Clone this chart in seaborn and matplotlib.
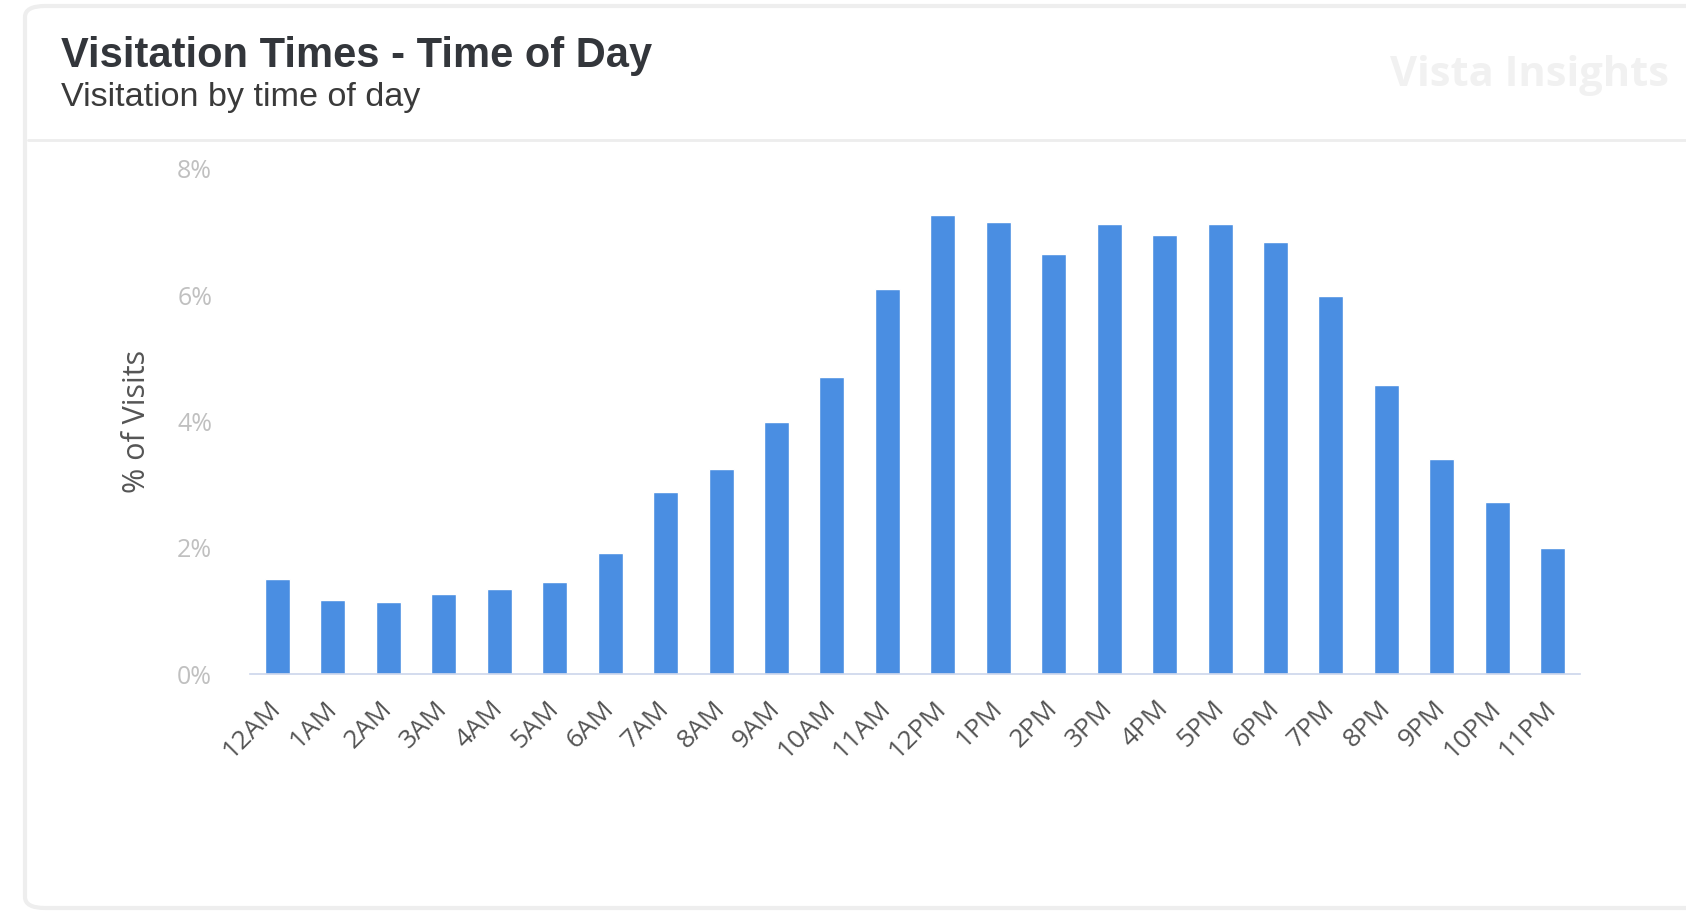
import matplotlib
matplotlib.use("Agg")
import matplotlib.pyplot as plt
import seaborn as sns
from matplotlib.patches import FancyBboxPatch
from matplotlib.lines import Line2D
from matplotlib.ticker import FuncFormatter

# hour of day and share of visits (%)
hours = ["12AM", "1AM", "2AM", "3AM", "4AM", "5AM", "6AM", "7AM", "8AM", "9AM",
         "10AM", "11AM", "12PM", "1PM", "2PM", "3PM", "4PM", "5PM", "6PM", "7PM",
         "8PM", "9PM", "10PM", "11PM"]
visits_pct = [1.50, 1.18, 1.14, 1.27, 1.35, 1.46, 1.92, 2.88, 3.25, 4.00,
              4.70, 6.09, 7.27, 7.15, 6.65, 7.12, 6.96, 7.12, 6.84, 5.99,
              4.57, 3.41, 2.72, 2.00]
y_ticks = [0, 2, 4, 6, 8]

sns.set_theme(style="white")
plt.rcParams["font.family"] = ["Open Sans", "DejaVu Sans"]

fig = plt.figure(figsize=(16.86, 9.16), dpi=100)
fig.patch.set_facecolor("white")

# card background
card = FancyBboxPatch((25 / 1686, 8 / 916), 1.05, 902 / 916,
                      boxstyle="round,pad=0,rounding_size=0.012",
                      transform=fig.transFigure, facecolor="white",
                      edgecolor="#eeeeee", linewidth=3, zorder=-10)
fig.patches.append(card)
fig.lines.append(Line2D([28 / 1686, 1.0], [1 - 140 / 916, 1 - 140 / 916],
                        transform=fig.transFigure, color="#ededed",
                        linewidth=2, zorder=-5))

# header
fig.text(61 / 1686, 1 - 67 / 916, "Visitation Times - Time of Day",
         family="Liberation Sans", fontsize=30, fontweight="bold",
         color="#33363b", ha="left", va="baseline")
fig.text(61 / 1686, 1 - 106 / 916, "Visitation by time of day",
         family="Liberation Sans", fontsize=24.6, color="#3a3a3a",
         ha="left", va="baseline")
fig.text(1669 / 1686, 1 - 75 / 916, "Vista Insights", family="Open Sans",
         fontsize=30, fontweight="bold", color="#f1f1f1", ha="right", va="center")

ax = fig.add_axes([249.7 / 1686, 1 - 674.2 / 916, 1330.8 / 1686, 505.4 / 916])
ax.set_zorder(5)
ax.patch.set_alpha(0)
sns.barplot(x=hours, y=visits_pct, color="#4a8ee2", saturation=1,
            width=0.45, ax=ax)

ax.set_ylim(0, 8)
ax.set_yticks(y_ticks)
ax.yaxis.set_major_formatter(FuncFormatter(lambda v, _: f"{v:.0f}%"))
ax.set_ylabel("% of Visits", fontsize=22, color="#555555", labelpad=18)
ax.set_xlabel("")

for s in ["top", "right", "left"]:
    ax.spines[s].set_visible(False)
ax.spines["bottom"].set_color("#ccd6eb")
ax.spines["bottom"].set_linewidth(1.2)

ax.tick_params(axis="y", length=0, pad=27, labelsize=18, labelcolor="#c0c0c0")
ax.tick_params(axis="x", length=0, pad=22, labelsize=19, labelcolor="#555555")
for lbl in ax.get_xticklabels():
    lbl.set_rotation(45)
    lbl.set_ha("right")
    lbl.set_va("center")
    lbl.set_rotation_mode("anchor")

fig.savefig("out.png", dpi=100, facecolor=fig.get_facecolor())
